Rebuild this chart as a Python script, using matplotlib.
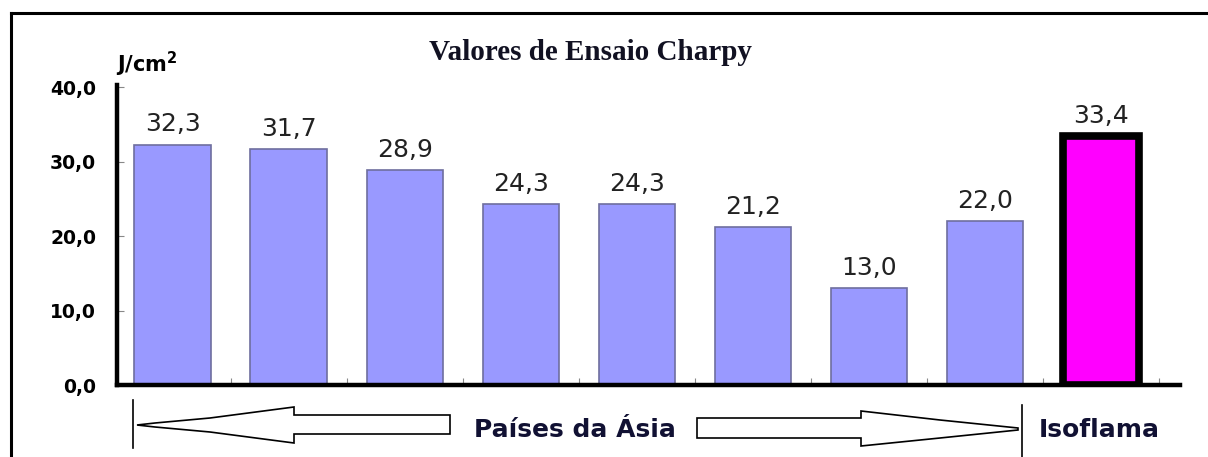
import numpy as np
import matplotlib.pyplot as plt
from matplotlib.patches import Polygon
from matplotlib.lines import Line2D

# valores
paises = ["A1", "A2", "A3", "A4", "A5", "A6", "A7", "A8", "Isoflama"]
valores = [32.3, 31.7, 28.9, 24.3, 24.3, 21.2, 13.0, 22.0, 33.4]
rotulos = ["32,3", "31,7", "28,9", "24,3", "24,3", "21,2", "13,0", "22,0", "33,4"]
yticks = [0, 10, 20, 30, 40]
ytick_labels = ["0,0", "10,0", "20,0", "30,0", "40,0"]

W, H = 1208, 457
fig = plt.figure(figsize=(W / 100, H / 100), dpi=100)
fig.patch.set_facecolor("white")

def px(x, y):
    return (x / W, 1 - y / H)

ax = fig.add_axes([117 / W, 1 - 385 / H, (1180 - 117) / W, (385 - 85) / H])
x = np.arange(len(valores))
cores = ["#9999FF"] * 8 + ["#FF00FF"]
bordas = ["#6E6E9E"] * 8 + ["black"]
larg = [1.2] * 8 + [5.5]
ax.bar(x, valores, width=0.66, color=cores, edgecolor=bordas, linewidth=larg, zorder=2)

for xi, v, r in zip(x, valores, rotulos):
    ax.annotate(r, (xi, v), xytext=(0, 6), textcoords="offset points",
                ha="center", va="bottom", fontsize=18, color="#222222")

ax.set_xlim(-0.48, 8.68)
ax.set_ylim(0, 40.3)
ax.set_yticks(yticks)
ax.set_yticklabels(ytick_labels, fontsize=13.5, fontweight="bold")
ax.set_xticks(x + 0.5)
ax.set_xticklabels([])
ax.tick_params(axis="y", direction="in", length=5, color="#888888", pad=15)
ax.tick_params(axis="x", direction="in", length=5, color="#888888")
for s in ["top", "right"]:
    ax.spines[s].set_visible(False)
for s in ["left", "bottom"]:
    ax.spines[s].set_linewidth(3.2)
    ax.spines[s].set_zorder(3)

# titulo e unidade
fig.text(*px(590, 52), "Valores de Ensaio Charpy", ha="center", va="center",
         fontsize=21, fontweight="bold", family="Liberation Serif", color="#111122")
fig.text(*px(116, 64), "J/cm$^{\\mathbf{2}}$", ha="left", va="center",
         fontsize=15, fontweight="bold")

# moldura externa
fig.add_artist(Line2D([11 / W, 1.0], [1 - 13 / H] * 2, color="black", lw=2.2,
                      transform=fig.transFigure))
fig.add_artist(Line2D([11 / W] * 2, [1 - 13 / H, 0], color="black", lw=2.2,
                      transform=fig.transFigure))

# setas inferiores
seta_esq = [(137, 425), (155, 423), (210, 418), (294, 407), (294, 415), (450, 415),
            (450, 434), (294, 434), (294, 443), (210, 432), (155, 427)]
seta_dir = [(697, 418), (861, 418), (861, 411), (940, 420), (1018, 428),
            (1018, 430), (940, 438), (861, 446), (861, 438), (697, 438)]
for pts in [seta_esq, seta_dir]:
    fig.add_artist(Polygon([px(a, b) for a, b in pts], closed=True, fill=False,
                           edgecolor="black", lw=1.2, transform=fig.transFigure))
fig.add_artist(Line2D([133 / W] * 2, [1 - 400 / H, 1 - 448 / H], color="black", lw=1.2,
                      transform=fig.transFigure))
fig.add_artist(Line2D([1022 / W] * 2, [1 - 405 / H, 0], color="black", lw=1.2,
                      transform=fig.transFigure))

fig.text(*px(575, 430), "Países da Ásia", ha="center", va="center",
         fontsize=18, fontweight="bold", color="#111133")
fig.text(*px(1099, 430), "Isoflama", ha="center", va="center",
         fontsize=18, fontweight="bold", color="#111133")

fig.savefig("out.png", dpi=100)
